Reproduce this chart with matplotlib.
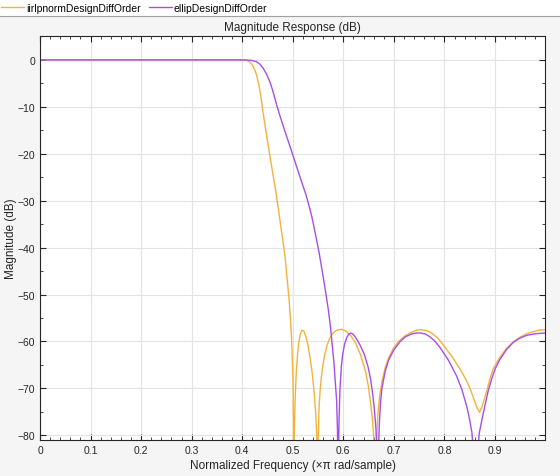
import matplotlib
matplotlib.use("Agg")
import matplotlib.pyplot as plt
from matplotlib.ticker import MultipleLocator
from matplotlib.lines import Line2D

plt.rcParams.update({"font.family": ["Liberation Sans", "DejaVu Sans"],
                     "font.size": 7.5})

# ------------------------------------------------------------------ #
#  Data (normalized freq, magnitude in dB)    #
# ------------------------------------------------------------------ #
iirlp_f = [0.0, 0.40, 0.406, 0.41, 0.4156, 0.419, 0.4221, 0.4255, 0.4286,
           0.432, 0.4351, 0.4385, 0.4416, 0.4481, 0.4545, 0.461, 0.4675,
           0.474, 0.4825, 0.4838, 0.487, 0.4903, 0.493, 0.4955, 0.4975,
           0.4987, 0.5, 0.5008, 0.5012, 0.5018, 0.5025, 0.5035, 0.5048,
           0.507, 0.5097, 0.512, 0.515, 0.5185, 0.522, 0.526, 0.5305, 0.535,
           0.539, 0.5425, 0.5455, 0.5475, 0.549, 0.5505, 0.552, 0.5545,
           0.5567, 0.56, 0.5633, 0.568, 0.5733, 0.58, 0.5867, 0.5967, 0.6067,
           0.615, 0.6242, 0.634, 0.6438, 0.6495, 0.6536, 0.657, 0.6601,
           0.6635, 0.6655, 0.668, 0.672, 0.6765, 0.683, 0.6895, 0.699,
           0.7092, 0.722, 0.7353, 0.7453, 0.7553, 0.765, 0.775, 0.787, 0.798,
           0.815, 0.8309, 0.8415, 0.8507, 0.858, 0.864, 0.8695, 0.874,
           0.8785, 0.8836, 0.89, 0.8967, 0.91, 0.9234, 0.936, 0.9493, 0.962,
           0.9757, 0.987, 0.998]
iirlp_db = [0.0, 0.0, -0.05, -0.15, -0.5, -0.9, -1.5, -2.3, -3.3,
            -4.8, -6.6, -9.0, -11.4, -16.0, -20.2, -24.5, -28.7,
            -33.7, -40.1, -41.1, -44.5, -48.2, -51.5, -55.2, -59.0,
            -62.3, -67.0, -71.0, -78.0, -100.0, -84.0, -77.0, -72.0,
            -66.5, -62.5, -60.2, -58.4, -57.6, -57.8, -59.0, -61.0, -64.0,
            -67.2, -71.0, -75.5, -80.0, -100.0, -80.0, -74.0, -70.0,
            -67.5, -64.8, -62.8, -60.8, -59.3, -58.2, -57.6, -57.4, -57.9,
            -58.8, -60.3, -62.8, -66.3, -69.5, -72.8, -76.0, -80.0,
            -100.0, -82.0, -76.0, -71.5, -68.5, -65.5, -63.5, -61.5,
            -60.0, -58.8, -58.0, -57.6, -57.5, -57.7, -58.2, -59.3, -60.8,
            -63.2, -65.9, -67.9, -70.0, -72.2, -74.0, -75.1, -74.0,
            -72.5, -70.6, -68.0, -65.8, -63.3, -61.4, -60.1, -59.1, -58.4,
            -57.9, -57.6, -57.5]

ellip_f = [0.0, 0.40, 0.41, 0.4156, 0.422, 0.4286, 0.435, 0.4416, 0.448,
           0.4545, 0.46, 0.4643, 0.469, 0.474, 0.487, 0.5, 0.513, 0.526,
           0.534, 0.539, 0.5455, 0.552, 0.5567, 0.5617, 0.5667, 0.5707,
           0.5747, 0.5813, 0.5867, 0.5885, 0.5897, 0.5905, 0.5915, 0.5933,
           0.596, 0.5987, 0.6025, 0.6067, 0.6105, 0.6148, 0.619, 0.6235,
           0.6324, 0.641, 0.6487, 0.654, 0.6585, 0.6615, 0.6645, 0.6665,
           0.668, 0.6695, 0.6715, 0.674, 0.6765, 0.683, 0.6895, 0.70,
           0.7125, 0.723, 0.735, 0.745, 0.752, 0.762, 0.77, 0.78, 0.7914,
           0.808, 0.8243, 0.835, 0.8441, 0.85, 0.8545, 0.8575, 0.8615,
           0.8655, 0.869, 0.8745, 0.8803, 0.8865, 0.8934, 0.901, 0.91,
           0.923, 0.9362, 0.949, 0.9625, 0.98, 0.998]
ellip_db = [0.0, 0.0, -0.02, -0.07, -0.18, -0.4, -0.9, -1.8, -3.0,
            -4.6, -6.4, -8.1, -9.9, -11.7, -16.0, -20.2, -24.5, -28.7,
            -31.8, -34.0, -37.5, -41.0, -44.0, -47.2, -50.6, -53.5,
            -57.0, -64.3, -72.5, -79.0, -100.0, -85.0, -77.0, -70.5,
            -65.5, -62.8, -60.6, -59.2, -58.5, -58.2, -58.4, -59.0,
            -60.6, -62.6, -65.3, -68.0, -71.5, -74.5, -78.5, -83.0,
            -100.0, -83.0, -77.0, -72.5, -70.0, -66.3, -64.0, -61.8,
            -60.0, -59.0, -58.4, -58.2, -58.2, -58.4, -58.9, -59.8, -61.3,
            -64.0, -67.4, -70.4, -73.8, -76.7, -79.5, -84.0, -100.0,
            -84.0, -79.5, -76.5, -73.6, -70.6, -68.0, -65.7, -63.8,
            -61.7, -60.2, -59.3, -58.7, -58.35, -58.2]

x_ticks = [0, 0.1, 0.2, 0.3, 0.4, 0.5, 0.6, 0.7, 0.8, 0.9]
y_ticks = [0, -10, -20, -30, -40, -50, -60, -70, -80]

ORANGE = "#F2B33D"
PURPLE = "#A64FE6"

fig = plt.figure(figsize=(5.6, 4.77), dpi=100, facecolor="#f5f5f5")
ax = fig.add_axes([40 / 560, 36 / 477, 505 / 560, 404 / 477])
ax.set_facecolor("white")

l1, = ax.plot(iirlp_f, iirlp_db, color=ORANGE, lw=1.0,
              label="iirlpnormDesignDiffOrder")
l2, = ax.plot(ellip_f, ellip_db, color=PURPLE, lw=1.0,
              label="ellipDesignDiffOrder")

ax.set_xlim(0, 0.999)
ax.set_ylim(-81, 5.1)
ax.set_xticks(x_ticks)
ax.set_xticklabels([f"{t:g}" for t in x_ticks])
ax.set_yticks(y_ticks)
ax.xaxis.set_minor_locator(MultipleLocator(0.02))
ax.yaxis.set_minor_locator(MultipleLocator(5))
ax.tick_params(which="both", direction="in", top=True, right=True,
               colors="#262626", labelcolor="#262626")
ax.tick_params(which="major", length=4, width=0.8)
ax.tick_params(which="minor", length=2, width=0.6)
ax.grid(True, which="major", color="#e3e3e3", lw=0.8)
ax.set_axisbelow(True)
for s in ax.spines.values():
    s.set_color("#262626")
    s.set_linewidth(0.8)

ax.set_title("Magnitude Response (dB)", fontsize=8.5, color="#262626", pad=4)
ax.set_xlabel("Normalized Frequency (\u00d7\u03c0 rad/sample)", fontsize=8.5,
              color="#262626", labelpad=3)
ax.set_ylabel("Magnitude (dB)", fontsize=8.5, color="#262626")
ax.yaxis.set_label_coords(-0.045, 0.5)

# legend band at the top
fig.patches.append(plt.Rectangle((0, 1 - 17 / 477), 1, 17 / 477,
                                 transform=fig.transFigure, facecolor="white",
                                 edgecolor="none", zorder=0))
fig.lines.append(Line2D([0, 1], [1 - 17 / 477] * 2, transform=fig.transFigure,
                        color="#a0a0a0", lw=0.8))
fig.legend(handles=[l1, l2], loc="upper left", bbox_to_anchor=(-0.009, 1.005),
           ncol=2, frameon=False, fontsize=7.5, handlelength=2.2,
           handletextpad=0.2, columnspacing=0.75, borderaxespad=0.2)

plt.savefig("out.png", dpi=100, facecolor=fig.get_facecolor())
